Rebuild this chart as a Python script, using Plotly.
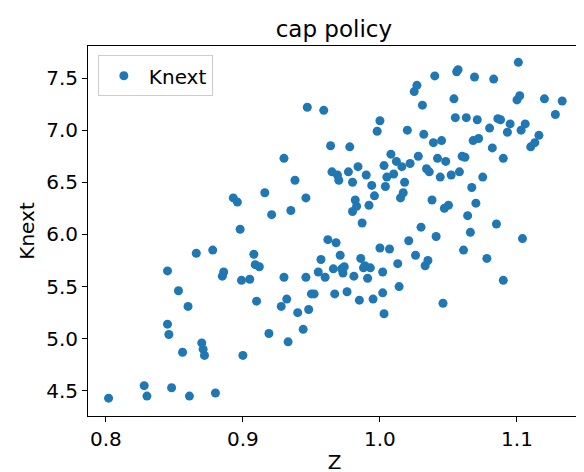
import plotly.graph_objects as go

z = [0.802, 0.828, 0.830, 0.848, 0.861, 0.880, 0.845, 0.845, 0.846, 0.853, 0.856, 0.860, 0.866, 0.870, 0.871, 0.872,
     0.878, 0.885, 0.886, 0.893, 0.896, 0.898, 0.899, 0.900, 0.905, 0.908, 0.909, 0.910, 0.912, 0.916, 0.919, 0.921,
     0.928, 0.930, 0.930, 0.932, 0.933, 0.935, 0.938, 0.940, 0.944, 0.946, 0.946, 0.947, 0.948, 0.950, 0.952, 0.955,
     0.957, 0.959, 0.960, 0.962, 0.964, 0.965, 0.966, 0.967, 0.968, 0.969, 0.970, 0.971, 0.972, 0.973, 0.974, 0.976,
     0.977, 0.978, 0.980, 0.980, 0.981, 0.982, 0.983, 0.984, 0.985, 0.986, 0.987, 0.988, 0.989, 0.990, 0.991, 0.992,
     0.993, 0.994, 0.995, 0.996, 0.998, 1.000, 1.000, 1.002, 1.002, 1.003, 1.003, 1.004, 1.005, 1.007, 1.008, 1.010,
     1.012, 1.013, 1.014, 1.015, 1.016, 1.017, 1.018, 1.020, 1.021, 1.022, 1.025, 1.026, 1.027, 1.028, 1.030, 1.031,
     1.032, 1.033, 1.034, 1.035, 1.036, 1.038, 1.039, 1.040, 1.041, 1.042, 1.044, 1.045, 1.046, 1.047, 1.048, 1.050,
     1.052, 1.054, 1.055, 1.056, 1.057, 1.058, 1.060, 1.061, 1.062, 1.063, 1.064, 1.066, 1.067, 1.068, 1.069, 1.070,
     1.071, 1.072, 1.075, 1.078, 1.080, 1.082, 1.083, 1.085, 1.086, 1.088, 1.090, 1.090, 1.093, 1.095, 1.100, 1.101,
     1.102, 1.103, 1.104, 1.106, 1.110, 1.113, 1.116, 1.120, 1.128, 1.133]
knext = [4.43, 4.55, 4.45, 4.53, 4.45, 4.48, 5.65, 5.14, 5.04, 5.46, 4.87, 5.31, 5.82, 4.96, 4.90, 4.84,
         5.85, 5.60, 5.64, 6.35, 6.31, 6.05, 5.56, 4.84, 5.57, 5.81, 5.71, 5.36, 5.69, 6.40, 5.05, 6.19,
         5.31, 6.73, 5.59, 5.38, 4.97, 6.23, 6.52, 5.25, 5.09, 5.59, 6.35, 7.22, 5.28, 5.43, 5.43, 5.64,
         5.76, 7.19, 5.59, 5.95, 6.85, 6.60, 5.67, 5.43, 5.92, 6.57, 6.52, 5.80, 5.67, 5.63, 5.69, 5.45,
         6.60, 6.84, 6.50, 6.22, 5.60, 6.33, 6.27, 6.65, 5.37, 5.77, 6.11, 5.68, 5.70, 6.57, 5.58, 6.28,
         5.68, 6.47, 5.38, 6.37, 6.99, 7.09, 5.87, 5.64, 5.44, 6.66, 5.24, 6.46, 6.55, 5.86, 6.77, 6.58,
         6.70, 5.72, 5.50, 6.35, 6.65, 6.40, 6.50, 7.00, 5.94, 6.68, 7.37, 5.80, 7.43, 6.75, 6.07, 7.24,
         6.96, 5.70, 6.63, 5.75, 6.60, 6.33, 6.88, 7.52, 5.98, 6.73, 6.55, 6.90, 5.34, 6.25, 6.70, 6.28,
         6.57, 7.30, 7.12, 7.56, 7.58, 6.60, 6.75, 5.85, 6.74, 7.12, 6.18, 6.02, 6.45, 6.90, 7.51, 6.30,
         7.10, 6.92, 6.55, 5.77, 7.02, 6.83, 7.49, 6.10, 7.11, 7.10, 5.56, 6.73, 6.98, 7.06, 7.29, 7.65,
         7.33, 7.00, 5.96, 7.06, 6.84, 6.88, 6.95, 7.30, 7.15, 7.28]

fig = go.Figure()
fig.add_trace(go.Scatter(x=z, y=knext, mode='markers', name='Knext',
                         marker=dict(color='#1f77b4', size=9)))

axis_style = dict(showgrid=False, zeroline=False, showline=True, mirror=True, automargin=False,
                  linecolor='black', linewidth=1, ticks='outside', ticklen=5,
                  tickcolor='black', tickfont=dict(size=20, color='black'))
fig.update_layout(
    width=584, height=472,
    margin=dict(l=80, r=11, t=38, b=64, autoexpand=False),
    plot_bgcolor='white', paper_bgcolor='white',
    font=dict(family='DejaVu Sans', color='black'),
    title=dict(text='cap policy', x=0.558, xanchor='center', y=0.955, yanchor='middle',
               font=dict(size=23)),
    showlegend=True,
    legend=dict(x=0.02, y=0.975, xanchor='left', yanchor='top', bordercolor='#cccccc',
                borderwidth=1, font=dict(size=20), itemwidth=40),
)
fig.update_xaxes(range=[0.787, 1.1467], tickvals=[0.8, 0.9, 1.0, 1.1],
                 ticktext=['0.8', '0.9', '1.0', '1.1'],
                 title=dict(text='Z', font=dict(size=20), standoff=4), **axis_style)
fig.update_yaxes(range=[4.259, 7.807], tickvals=[4.5, 5.0, 5.5, 6.0, 6.5, 7.0, 7.5],
                 ticktext=['4.5', '5.0', '5.5', '6.0', '6.5', '7.0', '7.5'],
                 title=dict(text='Knext', font=dict(size=20), standoff=6), **axis_style)

fig.write_html("out.html")
